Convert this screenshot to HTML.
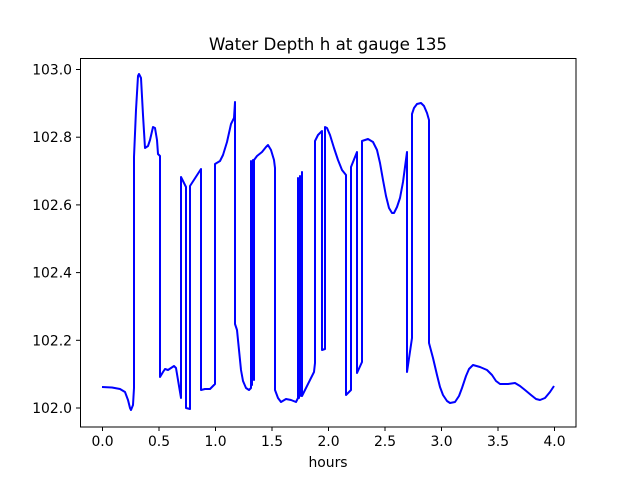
<!DOCTYPE html>
<html><head><meta charset="utf-8"><style>
html,body{margin:0;padding:0;background:#fff;}
svg{display:block;font-family:"DejaVu Sans","Liberation Sans",sans-serif;}
</style></head><body>
<svg width="640" height="480" viewBox="0 0 640 480" xmlns="http://www.w3.org/2000/svg">
<rect width="640" height="480" fill="#fff"/>
<path fill="none" stroke="#0000ff" stroke-width="2" stroke-linejoin="round" d="M102,387 L112,387.5 L120,389 L125,392 L128,400 L130,408 L131,410 L133,405 L134,388 L134,157 L136,110 L138,76 L139,74 L141,78 L143,115 L145,148 L148,146 L150,140 L153,127 L155,128 L157,140 L158,154 L160,156 L160,377 L163,372 L165,369 L168,370 L171,368 L174,366 L176,368 L178,380 L181,398 L181,177 L186,187 L186,408 L190,409 L190,186 L201,169 L201,390 L205,389 L210,389 L215,384 L215,164 L220,161 L223,155 L227,142 L231,124 L234,118 L235,102 L235,324 L237,330 L239,350 L241,370 L243,381 L246,388 L249,390 L251,388 L251,161 L252,385 L253,160 L254,380 L254,160 L257,156 L262,152 L266,147 L268,145 L271,150 L274,160 L275,168 L275,390 L278,398 L281,402 L286,399 L291,400 L296,402 L298,398 L298,178 L299,398 L300,176 L301,396 L302,172 L302,396 L314,372 L315,363 L315,141 L318,135 L322,131 L322,350 L325,349 L325,127 L327,128 L330,135 L334,148 L338,160 L342,170 L346,175 L346,395 L351,390 L351,167 L357,152 L357,373 L362,362 L362,141 L368,139 L373,142 L377,150 L380,163 L383,180 L386,196 L389,208 L392,213 L394,213 L397,207 L400,198 L403,182 L407,152 L407,372 L412,338 L412,114 L414,108 L417,104 L421,103 L424,106 L427,113 L429,120 L429,343 L433,358 L437,375 L440,387 L443,395 L447,401 L450,403 L455,402 L459,396 L462,388 L466,376 L469,369 L473,365 L480,367 L487,370 L492,375 L496,381 L500,384 L508,384 L515,383 L520,386 L525,390 L531,395 L536,399 L540,400 L545,398 L550,392 L554,386"/>
<rect x="80.5" y="58.5" width="495.5" height="368.5" fill="none" stroke="#000" stroke-width="1"/>
<g stroke="#000" stroke-width="1">
<line x1="102.5" y1="427" x2="102.5" y2="431"/><line x1="159" y1="427" x2="159" y2="431"/><line x1="215.5" y1="427" x2="215.5" y2="431"/><line x1="272" y1="427" x2="272" y2="431"/><line x1="328.5" y1="427" x2="328.5" y2="431"/><line x1="385" y1="427" x2="385" y2="431"/><line x1="441.5" y1="427" x2="441.5" y2="431"/><line x1="498" y1="427" x2="498" y2="431"/><line x1="554.5" y1="427" x2="554.5" y2="431"/>
<line x1="76" y1="408" x2="80" y2="408"/><line x1="76" y1="340.3" x2="80" y2="340.3"/><line x1="76" y1="272.6" x2="80" y2="272.6"/><line x1="76" y1="204.9" x2="80" y2="204.9"/><line x1="76" y1="137.2" x2="80" y2="137.2"/><line x1="76" y1="69.5" x2="80" y2="69.5"/>
</g>
<g font-size="13.9" fill="#000" text-anchor="middle">
<text x="102.5" y="446">0.0</text><text x="159" y="446">0.5</text><text x="215.5" y="446">1.0</text><text x="272" y="446">1.5</text><text x="328.5" y="446">2.0</text><text x="385" y="446">2.5</text><text x="441.5" y="446">3.0</text><text x="498" y="446">3.5</text><text x="554.5" y="446">4.0</text>
<text x="328" y="467">hours</text>
<text x="328" y="50" font-size="16.7">Water Depth h at gauge 135</text>
</g>
<g font-size="13.9" fill="#000" text-anchor="end">
<text x="72" y="413">102.0</text><text x="72" y="345.3">102.2</text><text x="72" y="277.6">102.4</text><text x="72" y="209.9">102.6</text><text x="72" y="142.2">102.8</text><text x="72" y="74.5">103.0</text>
</g>
</svg>
</body></html>
